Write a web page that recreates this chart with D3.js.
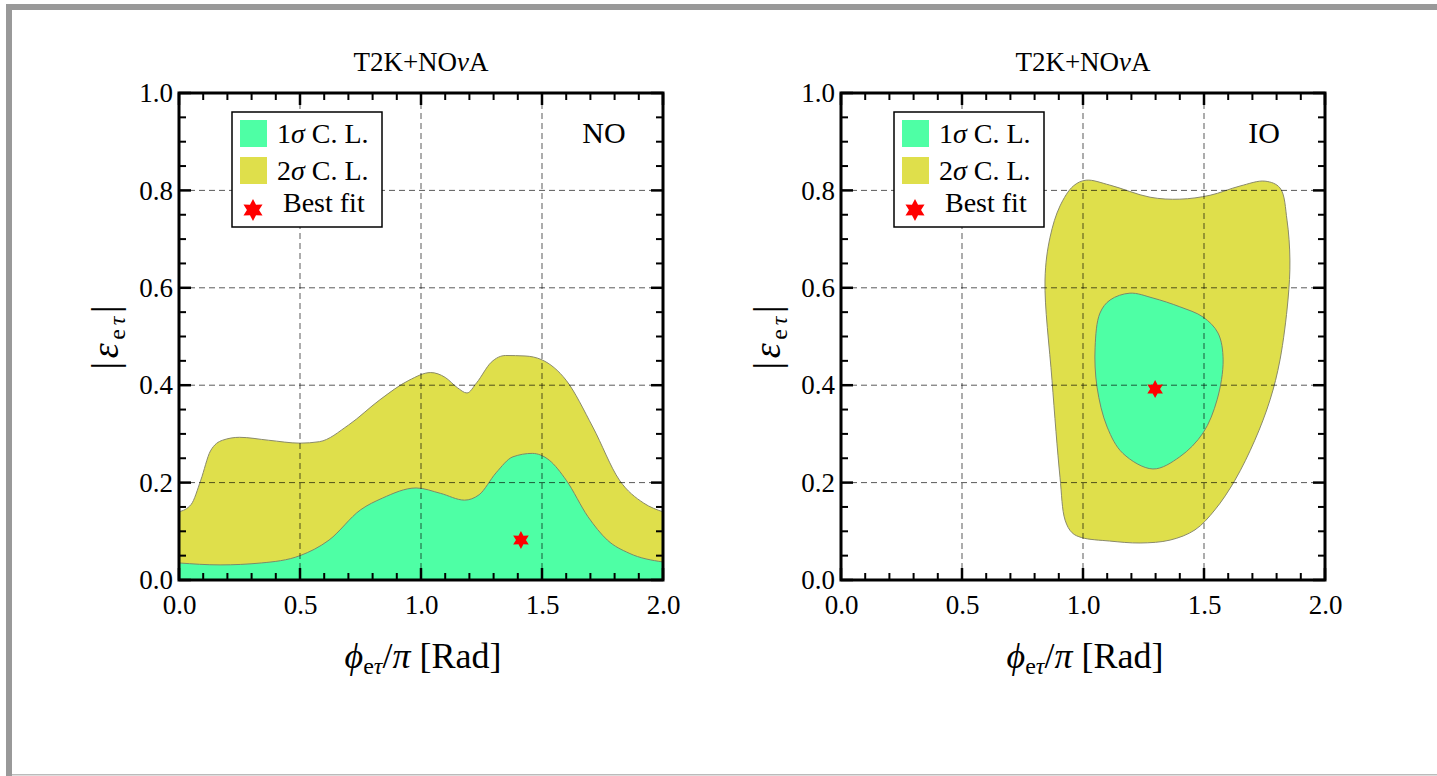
<!DOCTYPE html>
<html><head><meta charset="utf-8">
<script src="https://cdn.jsdelivr.net/npm/d3@7"></script>
<style>body{margin:0;background:#fff;} svg{display:block;} text{font-family:"Liberation Serif","Times New Roman",serif;fill:#000;}</style>
</head><body>
<svg id="c" width="1437" height="776"></svg>
<script>
// ---- data ----
const xTicks = [0.0, 0.5, 1.0, 1.5, 2.0];
const yTicks = [0.0, 0.2, 0.4, 0.6, 0.8, 1.0];
const gridX = [0.5, 1.0, 1.5];
const gridY = [0.2, 0.4, 0.6, 0.8];
const legendLabels = ["1σ C. L.", "2σ C. L.", "Best fit"];

// NO: upper boundaries of regions (filled down to 0)
const no2sigma = [[0,0.14],[0.05,0.155],[0.09,0.205],[0.13,0.265],[0.18,0.287],[0.25,0.293],[0.37,0.287],[0.5,0.281],[0.58,0.284],[0.7,0.318],[0.83,0.37],[0.95,0.41],[1.04,0.426],[1.1,0.416],[1.15,0.395],[1.19,0.384],[1.23,0.405],[1.29,0.447],[1.35,0.461],[1.43,0.46],[1.5,0.452],[1.6,0.41],[1.71,0.314],[1.82,0.205],[1.92,0.158],[2.0,0.14]];
const no1sigma = [[0,0.035],[0.17,0.031],[0.34,0.035],[0.5,0.05],[0.62,0.082],[0.75,0.144],[0.84,0.168],[0.98,0.189],[1.08,0.178],[1.18,0.164],[1.24,0.175],[1.31,0.22],[1.38,0.253],[1.46,0.26],[1.53,0.246],[1.6,0.205],[1.69,0.13],[1.77,0.082],[1.86,0.055],[2.0,0.037]];
const noBest = [1.413, 0.082];

// IO: closed contours
const io2sigma = [[1.013,0.821],[1.11,0.811],[1.277,0.786],[1.40,0.782],[1.525,0.79],[1.649,0.809],[1.752,0.819],[1.814,0.805],[1.843,0.739],[1.855,0.657],[1.847,0.575],[1.814,0.452],[1.773,0.37],[1.71,0.287],[1.628,0.205],[1.545,0.144],[1.463,0.103],[1.36,0.082],[1.236,0.076],[1.11,0.08],[0.995,0.087],[0.955,0.097],[0.926,0.123],[0.905,0.211],[0.872,0.41],[0.843,0.616],[0.864,0.704],[0.905,0.768],[0.96,0.809]];
const io1sigma = [[1.194,0.589],[1.289,0.579],[1.40,0.561],[1.496,0.54],[1.558,0.507],[1.579,0.452],[1.554,0.37],[1.496,0.302],[1.40,0.253],[1.289,0.228],[1.165,0.26],[1.1,0.314],[1.058,0.396],[1.05,0.478],[1.07,0.548],[1.112,0.575]];
const ioBest = [1.298, 0.392];

const panels = [
  {x0:179, label:"NO", open:true, s2:no2sigma, s1:no1sigma, best:noBest, labX:605},
  {x0:841, label:"IO", open:false, s2:io2sigma, s1:io1sigma, best:ioBest, labX:1265}
];

const svg = d3.select("#c");
// frame
svg.append("rect").attr("x",6).attr("y",4).attr("width",1431).attr("height",6).attr("fill","#999");
svg.append("rect").attr("x",6).attr("y",4).attr("width",6).attr("height",772).attr("fill","#999");
svg.append("rect").attr("x",12).attr("y",774).attr("width",1425).attr("height",1.5).attr("fill","#bbb");

const W = 484, TOP = 93, BOT = 580;
const C1 = "#4effa5", C2 = "#dfdf4b";

function star(g, cx, cy, r, fill){
  const pts=[];
  for(let i=0;i<12;i++){
    const a = -Math.PI/2 + i*Math.PI/6;
    const rr = i%2===0? r : r*0.55;
    pts.push([cx+rr*Math.cos(a), cy+rr*Math.sin(a)]);
  }
  g.append("polygon").attr("points",pts.map(p=>p.join(",")).join(" ")).attr("fill",fill);
}

panels.forEach(p=>{
  const x = d3.scaleLinear().domain([0,2]).range([p.x0, p.x0+W]);
  const y = d3.scaleLinear().domain([0,1]).range([BOT, TOP]);
  const g = svg.append("g");
  const clipId = "clip"+p.label;
  svg.append("clipPath").attr("id",clipId).append("rect").attr("x",p.x0).attr("y",TOP).attr("width",W).attr("height",BOT-TOP);
  const fg = g.append("g").attr("clip-path",`url(#${clipId})`);
  if(p.open){
    const area = d3.area().x(d=>x(d[0])).y0(y(0)).y1(d=>y(d[1])).curve(d3.curveMonotoneX);
    const line = d3.line().x(d=>x(d[0])).y(d=>y(d[1])).curve(d3.curveMonotoneX);
    fg.append("path").datum(p.s2).attr("d",area).attr("fill",C2);
    fg.append("path").datum(p.s2).attr("d",line).attr("fill","none").attr("stroke","#8a8a6a").attr("stroke-width",1);
    fg.append("path").datum(p.s1).attr("d",area).attr("fill",C1);
    fg.append("path").datum(p.s1).attr("d",line).attr("fill","none").attr("stroke","#7a8a6a").attr("stroke-width",1);
  } else {
    const line = d3.line().x(d=>x(d[0])).y(d=>y(d[1])).curve(d3.curveCatmullRomClosed.alpha(0.5));
    fg.append("path").datum(p.s2).attr("d",line).attr("fill",C2).attr("stroke","#8a8a6a").attr("stroke-width",1);
    fg.append("path").datum(p.s1).attr("d",line).attr("fill",C1).attr("stroke","#7a8a6a").attr("stroke-width",1);
  }
  // grid
  gridX.forEach(v=>fg.append("line").attr("x1",x(v)).attr("x2",x(v)).attr("y1",TOP).attr("y2",BOT)
    .attr("stroke","#000").attr("stroke-opacity",0.65).attr("stroke-dasharray","6,4").attr("stroke-width",1));
  gridY.forEach(v=>fg.append("line").attr("x1",p.x0).attr("x2",p.x0+W).attr("y1",y(v)).attr("y2",y(v))
    .attr("stroke","#000").attr("stroke-opacity",0.65).attr("stroke-dasharray","6,4").attr("stroke-width",1));
  // best fit star
  star(g, x(p.best[0]), y(p.best[1]), 9, "#ff0000");

  // ticks (inward, all four sides)
  const tk = g.append("g").attr("stroke","#000");
  d3.range(0,2.0001,0.1).forEach(v=>{
    const major = Math.abs(v*2-Math.round(v*2))<1e-6;
    const L = major?12:7, sw = major?2.5:2;
    tk.append("line").attr("x1",x(v)).attr("x2",x(v)).attr("y1",BOT).attr("y2",BOT-L).attr("stroke-width",sw);
    tk.append("line").attr("x1",x(v)).attr("x2",x(v)).attr("y1",TOP).attr("y2",TOP+L).attr("stroke-width",sw);
  });
  d3.range(0,1.0001,0.05).forEach(v=>{
    const major = Math.abs(v*5-Math.round(v*5))<1e-6;
    const L = major?12:7, sw = major?2.5:2;
    tk.append("line").attr("y1",y(v)).attr("y2",y(v)).attr("x1",p.x0).attr("x2",p.x0+L).attr("stroke-width",sw);
    tk.append("line").attr("y1",y(v)).attr("y2",y(v)).attr("x1",p.x0+W).attr("x2",p.x0+W-L).attr("stroke-width",sw);
  });
  g.append("rect").attr("x",p.x0).attr("y",TOP).attr("width",W).attr("height",BOT-TOP)
    .attr("fill","none").attr("stroke","#000").attr("stroke-width",3);

  // axes tick labels via d3 axes
  const xa = g.append("g").attr("transform",`translate(0,${BOT})`)
    .call(d3.axisBottom(x).tickValues(xTicks).tickFormat(d3.format(".1f")).tickSize(0).tickPadding(15));
  xa.select(".domain").remove();
  xa.selectAll("text").attr("font-size",27).style("font-family","Liberation Serif");
  const ya = g.append("g").attr("transform",`translate(${p.x0},0)`)
    .call(d3.axisLeft(y).tickValues(yTicks).tickFormat(d3.format(".1f")).tickSize(0).tickPadding(6));
  ya.select(".domain").remove();
  ya.selectAll("text").attr("font-size",27).style("font-family","Liberation Serif");

  // title
  const cx = p.x0 + W/2;
  const t = g.append("text").attr("x",cx).attr("y",71).attr("text-anchor","middle").attr("font-size",27);
  t.append("tspan").text("T2K+NO");
  t.append("tspan").attr("font-style","italic").text("ν");
  t.append("tspan").text("A");

  // x label
  const xl = g.append("text").attr("x",cx+2).attr("y",668).attr("text-anchor","middle").attr("font-size",36);
  xl.append("tspan").attr("font-style","italic").text("ϕ");
  xl.append("tspan").attr("font-size",24).attr("dy",6).text("e");
  xl.append("tspan").attr("font-size",24).attr("font-style","italic").text("τ");
  xl.append("tspan").attr("dy",-6).text("/");
  xl.append("tspan").attr("font-style","italic").text("π");
  xl.append("tspan").text(" [Rad]");

  // y label
  const yl = g.append("text").attr("transform",`translate(${p.x0-61},${(TOP+BOT)/2+1}) rotate(-90)`)
    .attr("text-anchor","middle").attr("font-size",38)
    .attr("textLength",64).attr("lengthAdjust","spacing");
  yl.append("tspan").text("|");
  yl.append("tspan").attr("font-style","italic").text("ε");
  yl.append("tspan").attr("font-size",24).attr("dy",7).text("e");
  yl.append("tspan").attr("font-size",24).attr("font-style","italic").text("τ");
  yl.append("tspan").attr("dy",-7).text("|");

  // NO / IO label
  g.append("text").attr("x",p.labX-1).attr("y",143).attr("text-anchor","middle").attr("font-size",30).text(p.label);

  // legend
  const lx = p.x0 + 53, ly = 112;
  const lg = g.append("g");
  lg.append("rect").attr("x",lx).attr("y",ly).attr("width",150).attr("height",115).attr("fill","#fff").attr("stroke","#000").attr("stroke-width",1.5);
  lg.append("rect").attr("x",lx+8).attr("y",ly+8).attr("width",27).attr("height",27).attr("fill",C1);
  lg.append("rect").attr("x",lx+8).attr("y",ly+45).attr("width",27).attr("height",27).attr("fill",C2);
  star(lg, lx+21, ly+98, 11, "#ff0000");
  [0,1].forEach(i=>{
    const tx = lg.append("text").attr("x",lx+45).attr("y",ly+31+i*37).attr("font-size",28);
    tx.append("tspan").text(legendLabels[i].charAt(0));
    tx.append("tspan").attr("font-style","italic").text("σ");
    tx.append("tspan").text(legendLabels[i].slice(2));
  });
  lg.append("text").attr("x",lx+51).attr("y",ly+100).attr("font-size",28).text(legendLabels[2]);
});
</script>
</body></html>
